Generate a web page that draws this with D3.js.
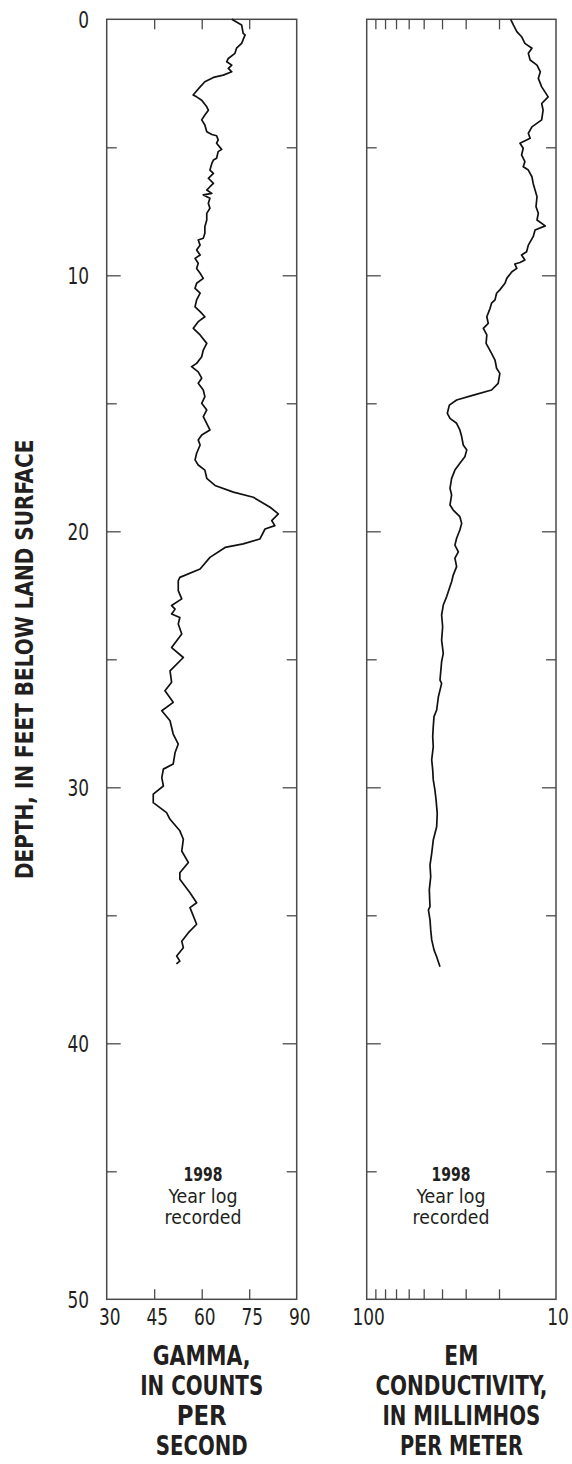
<!DOCTYPE html>
<html><head><meta charset="utf-8">
<script src="https://cdn.jsdelivr.net/npm/d3@7"></script>
<style>body{margin:0;background:#fff}svg{display:block}</style>
</head><body>
<svg id="c" width="572" height="1464"></svg>
<script>
// ---------- data ----------
const gammaDepth = [0,0.22,0.55,0.61,0.94,1.13,1.33,1.53,1.66,1.79,1.92,2.05,2.18,2.27,2.44,2.64,2.87,2.96,3.03,3.16,3.42,3.55,3.74,
  3.93,4.13,4.39,4.50,4.55,4.71,4.84,5.08,5.17,5.43,5.50,5.63,5.89,6.02,6.21,6.41,6.54,6.67,6.80,6.86,6.99,7.19,7.38,7.58,7.84,8.10,8.36,8.55,8.62,8.82,9.01,9.21,9.34,9.53,9.73,9.92,10.12,10.31,10.51,10.70,10.96,11.23,11.42,11.62,11.81,12.07,12.33,12.66,12.92,13.18,13.44,13.57,13.77,14.02,14.22,14.48,14.74,15.00,15.26,15.52,16.04,16.24,16.43,16.63,16.95,17.21,17.41,17.61,17.93,
  18.21,18.47,18.67,19.06,19.32,19.58,19.78,19.91,20.3,20.49,20.63,21.02,21.47,21.8,21.93,22.32,22.64,22.9,23.04,23.23,23.37,23.62,24.01,24.54,24.93,25.45,25.9,26.23,26.68,27.01,27.4,27.92,28.31,28.64,29.09,29.29,29.62,29.95,30.27,30.6,30.99,31.25,31.7,32.03,32.49,32.94,33.34,33.59,34.12,34.51,34.7,35.35,35.68,36.01,36.27,36.59,36.79,36.9];
const gammaCps = [69.5,72.6,73.1,73.7,72.6,71,70.5,68.4,67.9,69.5,68.4,69.5,66.8,63.7,61,59.5,57.9,57.3,58.4,60,61.6,62.1,61,
  60.0,61.0,61.6,63.2,64.7,65.2,64.7,66.3,65.2,64.7,63.7,63.2,62.6,63.7,62.1,63.7,62.6,61.6,63.2,60.5,62.6,62.1,62.6,61.6,61.6,61.0,61.0,60.5,58.9,59.5,58.4,59.5,57.9,58.9,58.4,59.5,60.5,58.4,57.9,59.5,58.4,57.9,59.5,61.0,58.9,57.35,59.5,61.6,60.5,60.0,58.4,56.8,58.9,60.0,58.9,60.5,61.0,60.0,61.6,60.5,62.6,60.0,58.9,59.5,58.4,57.9,58.9,61.0,61.6,
  64.2,70,76.3,81.6,84.2,82.1,83.1,80,78.4,73.1,67.4,62.6,59.5,53.1,52.6,52.6,53.7,50.5,51.6,50.5,53.1,52.6,53.7,50.5,54.2,50,50.5,48.4,51,47.4,50,51,52.6,51.6,51,47.9,47.4,47.9,44.7,44.7,48.9,50,53.1,54.2,53.7,55.8,53.1,53.1,56.3,58.4,56.3,58.4,55.8,53.7,54.2,52.1,53.1,52.0];
const emDepth = [0,0.22,0.48,0.68,0.94,1.13,1.33,1.59,1.79,2.05,2.31,2.64,3.03,3.29,3.55,
  3.93,4.20,4.45,4.65,4.84,5.04,5.30,5.56,5.76,5.89,6.15,6.41,6.67,6.93,7.32,7.58,7.84,8.07,8.23,8.49,8.82,9.08,9.21,9.40,9.50,9.56,9.73,9.86,10.12,10.31,10.57,10.70,10.96,11.09,11.29,11.62,11.88,12.07,12.33,12.66,13.05,13.31,13.63,13.83,14.22,14.48,14.68,14.87,15.07,15.39,15.59,15.78,16.04,16.30,16.63,16.82,17.09,17.34,17.61,17.93,
  18.32,18.58,18.97,19.17,19.43,19.69,19.95,20.27,20.54,20.80,21.05,21.38,21.71,21.97,22.16,22.55,22.88,23.27,23.73,24.25,24.77,25.09,25.81,25.94,26.46,26.98,27.24,27.63,28.02,28.41,28.93,29.32,29.71,30.11,30.50,31.02,31.54,
  32.06,32.58,33.04,33.49,34.01,34.66,34.79,35.18,35.57,35.96,36.35,36.62,37.01];
const emConductivity = [17.35,16.8,16.1,15.2,14.6,13.4,14,13.7,12.6,12.1,12.4,11.9,11,11.9,11.7,
  11.9,13.4,14.0,13.7,15.5,14.9,15.2,14.6,14.9,14.0,13.4,13.2,12.9,12.6,12.75,12.4,12.6,11.4,12.9,13.2,14.0,14.3,15.2,14.6,15.5,16.5,16.1,17.1,18.2,18.6,19.8,20.6,21.0,21.9,22.3,23.2,22.8,24.2,23.2,23.4,21.9,21.0,20.6,19.8,20.2,21.9,27.3,33.5,36.6,37.5,36.3,33.5,32.2,31.5,30.9,29.6,30.3,32.2,34.2,35.6,
  36.3,35.6,36.3,34.9,32.2,31.5,32.2,33.5,34.2,32.8,34.2,33.5,34.9,35.6,36.3,37.8,39.4,40.2,39.7,40.2,39.4,40.2,41.0,40.2,41.8,42.7,44.1,44.5,44.8,44.5,45.35,44.8,44.5,43.6,43.0,42.4,42.7,
  44.5,45.35,46.3,45.9,46.7,46.3,47.2,46.3,45.9,45.35,44.1,42.7,41.0];
const depthTicks = [0,10,20,30,40,50];
const depthMinorTicks = [5,15,25,35,45];
const gammaTicks = [30,45,60,75,90];
const emLabelTicks = [100,10];
const emMinorTicks = [90,80,70,60,50,40,30,20];
const yearLabel = ["1998","Year log","recorded"];
const gammaTitle = ["GAMMA,","IN COUNTS","PER","SECOND"];
const emTitle = ["EM","CONDUCTIVITY,","IN MILLIMHOS","PER METER"];
const depthTitle = "DEPTH, IN FEET BELOW LAND SURFACE";

// ---------- layout ----------
const svg = d3.select("#c");
const FONT = "'Liberation Sans Narrow','DejaVu Sans Condensed','Arial Narrow',sans-serif";
const INK = "#231f20";
const yTop = 19.3, yBot = 1299.3;
const y = d3.scaleLinear().domain([0,50]).range([yTop,yBot]);
const xG = d3.scaleLinear().domain([30,90]).range([106.7,296.7]);
const xE = d3.scaleLog().domain([100,10]).range([366.7,556]);
const frameColor = "#4a4a4a";

// text helper: horizontally squeezed text (condensed look)
function label(txt, x, yy, size, opts={}){
  const t = svg.append("text").attr("font-family",FONT).attr("font-size",size)
    .attr("font-weight",opts.bold?"bold":"normal").attr("fill",INK)
    .attr("text-anchor",opts.anchor||"middle").text(txt);
  let s = opts.scale || 1;
  if (opts.width) s = opts.width / t.node().getComputedTextLength();
  const rot = opts.rotate ? ` rotate(${opts.rotate})` : "";
  t.attr("transform",`translate(${x},${yy})${rot} scale(${s},1)`);
  return t;
}

function panel(x, edgeTicks){
  const [x0,x1] = x.range();
  const g = svg.append("g");
  const mk = (axis, tx, vals, size) => {
    const a = g.append("g").attr("transform",`translate(${tx},0)`)
      .call(axis(y).tickValues(vals).tickSize(size).tickFormat(""));
    a.select(".domain").remove();
    a.selectAll("line").attr("stroke",frameColor).attr("stroke-width",1.3);
  };
  mk(d3.axisRight, x0, [10,20,30,40], 14);
  mk(d3.axisRight, x0, depthMinorTicks, 10);
  mk(d3.axisLeft, x1, [10,20,30,40], 14);
  mk(d3.axisLeft, x1, depthMinorTicks, 10);
  const t = g.append("g").attr("transform",`translate(0,${yTop})`)
    .call(d3.axisBottom(x).tickValues(edgeTicks).tickSize(10).tickFormat(""));
  t.select(".domain").remove();
  t.selectAll("line").attr("stroke",frameColor).attr("stroke-width",1.3);
  const b = g.append("g").attr("transform",`translate(0,${yBot})`)
    .call(d3.axisTop(x).tickValues(edgeTicks).tickSize(10).tickFormat(""));
  b.select(".domain").remove();
  b.selectAll("line").attr("stroke",frameColor).attr("stroke-width",1.3);
  g.append("rect").attr("x",x0).attr("y",yTop).attr("width",x1-x0).attr("height",yBot-yTop)
    .attr("fill","none").attr("stroke",frameColor).attr("stroke-width",1.5);
}
panel(xG, gammaTicks.slice(1,-1));
panel(xE, emMinorTicks);

// curves
const gammaData = gammaDepth.map((d,i)=>({d, v:gammaCps[i]}));
const emData = emDepth.map((d,i)=>({d, v:emConductivity[i]}));
svg.append("path").datum(gammaData)
  .attr("d", d3.line().x(p=>xG(p.v)).y(p=>y(p.d)))
  .attr("fill","none").attr("stroke","#111").attr("stroke-width",1.7).attr("stroke-linejoin","round");
svg.append("path").datum(emData)
  .attr("d", d3.line().x(p=>xE(p.v)).y(p=>y(p.d)))
  .attr("fill","none").attr("stroke","#111").attr("stroke-width",1.7).attr("stroke-linejoin","round");

// depth labels
depthTicks.forEach(d => label(String(d), 89, y(d)+8.3, 23, {anchor:"end", scale:0.82}));

// bottom tick labels
gammaTicks.forEach(d => label(String(d), xG(d)+3, 1325, 23, {scale:0.82}));
emLabelTicks.forEach(d => label(String(d), xE(d)+2, 1325, 23, {scale:0.82}));

// depth title
label(depthTitle, 33, (yTop+yBot)/2, 25, {bold:true, rotate:-90, width:440});

// axis titles
const gW = [98,123,50,92], eW = [34,172,158,123];
const gcx = (xG.range()[0]+xG.range()[1])/2, ecx = (xE.range()[0]+xE.range()[1])/2;
gammaTitle.forEach((t,i) => label(t, gcx, 1365+i*30, 27, {bold:true, width:gW[i]}));
emTitle.forEach((t,i) => label(t, ecx, 1365+i*30, 27, {bold:true, width:eW[i]}));

// year labels
const yW = [39,69,77];
[203, 451].forEach(cx => yearLabel.forEach((t,i) =>
  label(t, cx, 1181+i*21.5, 20, {bold:i===0, width:yW[i]})));
</script>
</body></html>
